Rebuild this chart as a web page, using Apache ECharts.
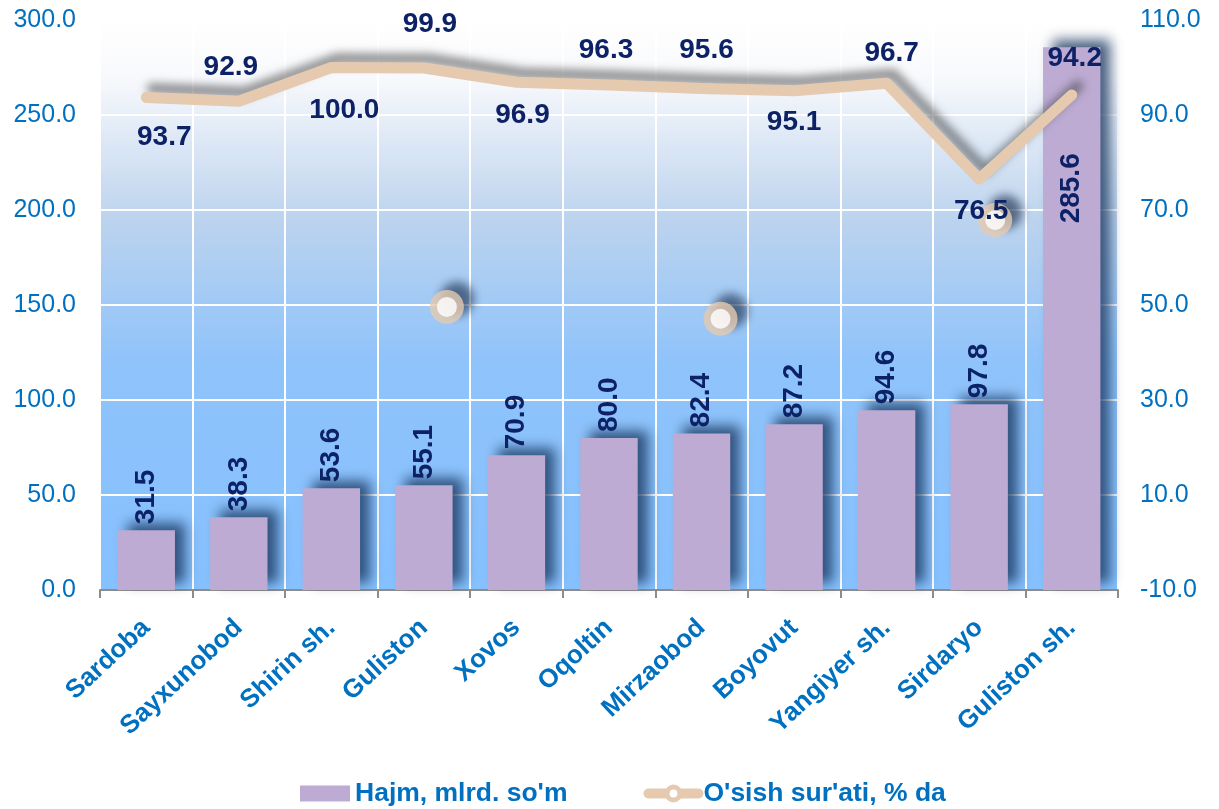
<!DOCTYPE html>
<html>
<head>
<meta charset="utf-8">
<script src="https://cdn.jsdelivr.net/npm/echarts@6/dist/echarts.min.js"></script>
<style>
  html, body { margin: 0; padding: 0; background: #fff; }
  #chart { width: 1219px; height: 809px; }
</style>
</head>
<body>
<div id="chart"></div>
<script>
// data
const categories = ['Sardoba', 'Sayxunobod', 'Shirin sh.', 'Guliston', 'Xovos', 'Oqoltin', 'Mirzaobod', 'Boyovut', 'Yangiyer sh.', 'Sirdaryo', 'Guliston sh.']
const hajm = [31.5, 38.3, 53.6, 55.1, 70.9, 80.0, 82.4, 87.2, 94.6, 97.8, 285.6]
const osish = [93.7, 92.9, 100.0, 99.9, 96.9, 96.3, 95.6, 95.1, 96.7, 76.5, 94.2]
// stray marker circles seen in the picture (category index, value)
const strayMarks = [[3, 49.6], [6, 47.1], [9, 67.9]]

// styling: shift of each line label from its point, and of the stray circles
const lineLabelShift = [[18, 40], [-8, -34], [13, 43], [6, -44], [6, 33], [-3, -35], [5, -38], [0, 32], [5, -30], [2, 32], [3, -37]]
const strayShift = [23, 19, 16]

const blue = '#0070c0'
const navy = '#0d2266'
const beige = '#e5cab0'
const font = 'Liberation Sans, Arial, sans-serif'

const chart = echarts.init(document.getElementById('chart'))

const barData = hajm.map((v, i) => {
  if (i === hajm.length - 1) {
    // tallest bar keeps its label inside, reading upward
    return { value: v, label: { offset: [-182, 0] } }
  }
  return v
})

const strayData = strayMarks.map((p, k) => ({
  value: [p[0], p[1]],
  symbolOffset: [strayShift[k], 0]
}))

chart.setOption({
  backgroundColor: '#ffffff',
  textStyle: { fontFamily: font },
  grid: {
    left: 100,
    right: 101,
    top: 20,
    bottom: 219,
    show: true,
    borderWidth: 0,
    backgroundColor: new echarts.graphic.LinearGradient(0, 0, 0, 1, [
      { offset: 0, color: '#ffffff' },
      { offset: 0.1, color: '#f8f9fc' },
      { offset: 0.35, color: '#bcd3ee' },
      { offset: 0.6, color: '#8fc3fa' },
      { offset: 1, color: '#85c0ff' }
    ])
  },
  legend: {
    bottom: -3,
    left: 295,
    itemGap: 76,
    itemWidth: 50,
    itemHeight: 16,
    itemTextGap: 6,
    textStyle: { color: blue, fontSize: 26.5, fontWeight: 'bold', fontFamily: font },
    data: [
      { name: "Hajm, mlrd. so'm", icon: 'rect', itemStyle: { shadowBlur: 0, shadowOffsetX: 0, shadowOffsetY: 0 } },
      {
        name: "O'sish sur'ati, % da",
        lineStyle: { width: 10, color: beige, shadowBlur: 0, shadowOffsetX: 0, shadowOffsetY: 0 },
        itemStyle: { color: '#ffffff', borderColor: beige, borderWidth: 5 }
      }
    ]
  },
  xAxis: {
    type: 'category',
    data: categories,
    boundaryGap: true,
    axisLine: { show: true, lineStyle: { color: '#8c8c8c', width: 2 } },
    axisTick: { show: true, length: 8, lineStyle: { color: '#8c8c8c', width: 2 } },
    splitLine: { show: true, lineStyle: { color: '#ffffff', width: 2 } },
    axisLabel: {
      rotate: 43,
      interval: 0,
      margin: 34,
      color: blue,
      fontSize: 26,
      fontWeight: 'bold',
      fontFamily: font
    }
  },
  yAxis: [
    {
      type: 'value',
      min: 0,
      max: 300,
      interval: 50,
      axisLine: { show: false },
      axisTick: { show: false },
      splitLine: { show: true, lineStyle: { color: '#ffffff', width: 2 } },
      axisLabel: {
        color: blue,
        fontSize: 25,
        margin: 24,
        fontFamily: font,
        formatter: v => v.toFixed(1)
      }
    },
    {
      type: 'value',
      min: -10,
      max: 110,
      interval: 20,
      axisLine: { show: false },
      axisTick: { show: false },
      splitLine: { show: false },
      axisLabel: {
        color: blue,
        fontSize: 25,
        margin: 22,
        fontFamily: font,
        formatter: v => v.toFixed(1)
      }
    }
  ],
  series: [
    {
      name: "Hajm, mlrd. so'm",
      type: 'bar',
      barWidth: '62%',
      data: barData,
      itemStyle: {
        color: '#bdabd3',
        shadowColor: 'rgba(25, 55, 95, 0.8)',
        shadowBlur: 12,
        shadowOffsetX: 10,
        shadowOffsetY: -7
      },
      label: {
        show: true,
        position: 'top',
        rotate: 90,
        align: 'left',
        verticalAlign: 'middle',
        distance: 6,
        color: navy,
        fontSize: 28,
        fontWeight: 'bold',
        fontFamily: font,
        formatter: p => p.value.toFixed(1)
      },
      z: 2
    },
    {
      name: "O'sish sur'ati, % da",
      type: 'line',
      yAxisIndex: 1,
      data: osish,
      symbol: 'circle',
      symbolSize: 0,
      showSymbol: true,
      lineStyle: {
        color: beige,
        width: 11,
        cap: 'round',
        join: 'round',
        shadowColor: 'rgba(60, 60, 60, 0.55)',
        shadowBlur: 8,
        shadowOffsetX: 6,
        shadowOffsetY: -9
      },
      itemStyle: { color: '#ffffff', borderColor: beige, borderWidth: 0 },
      label: {
        show: true,
        position: 'inside',
        color: navy,
        fontSize: 28,
        fontWeight: 'bold',
        fontFamily: font,
        formatter: p => p.value.toFixed(1)
      },
      labelLayout: p => ({
        dx: lineLabelShift[p.dataIndex][0],
        dy: lineLabelShift[p.dataIndex][1],
        hideOverlap: false
      }),
      emphasis: { disabled: true },
      z: 5
    },
    {
      name: 'stray',
      type: 'scatter',
      yAxisIndex: 1,
      data: strayData,
      symbol: 'circle',
      symbolSize: 34,
      itemStyle: {
        color: beige,
        shadowColor: 'rgba(35, 55, 85, 0.85)',
        shadowBlur: 10,
        shadowOffsetX: 10,
        shadowOffsetY: -8
      },
      emphasis: { disabled: true },
      z: 3
    },
    {
      name: 'strayInner',
      type: 'scatter',
      yAxisIndex: 1,
      data: strayData,
      symbol: 'circle',
      symbolSize: 20,
      itemStyle: { color: '#ffffff' },
      emphasis: { disabled: true },
      z: 4
    }
  ]
})
</script>
</body>
</html>
